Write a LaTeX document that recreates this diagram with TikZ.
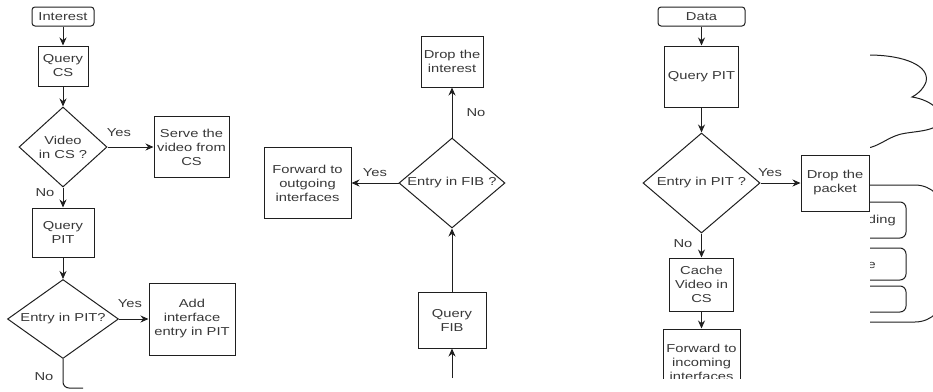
\documentclass[tikz,border=0pt]{standalone}
\usepackage{fontspec}
\setmainfont{Liberation Sans}[FakeStretch=1.28]
\usetikzlibrary{shapes.geometric,arrows.meta}
\definecolor{txt}{gray}{0.22}
\definecolor{ln}{gray}{0.12}
\tikzset{
  base/.style={draw=ln, line width=1pt, text=txt, align=center, inner sep=0pt,
    font=\fontsize{11.5}{14}\selectfont},
  box/.style={base, rectangle},
  term/.style={base, rectangle, rounded corners=3pt},
  dia/.style={draw=ln, line width=1pt, diamond, inner sep=0pt},
  dtext/.style={text=txt, align=center, inner sep=0pt, font=\fontsize{11.5}{14}\selectfont},
  lbl/.style={text=txt, inner sep=0pt, font=\fontsize{11.5}{14}\selectfont},
  arr/.style={draw=ln, line width=1pt, -{Stealth[length=8pt,width=7pt]}},
  plain/.style={draw=ln, line width=1pt},
}
\begin{document}
\begin{tikzpicture}[x=1pt,y=-1pt]
\useasboundingbox (0,0) rectangle (933,391);
% ---------------- left column ----------------
\node[term, minimum width=62pt, minimum height=19pt] (int) at (63,16.5) {Interest};
\node[box, minimum width=50pt, minimum height=40pt] (qcs) at (63,66) {Query\\CS};
\node[dia, minimum width=88pt, minimum height=80pt] (vcs) at (63,147) {};
\node[dtext] (vcst) at (63,147) {Video\\in CS ?};
\node[box, minimum width=75pt, minimum height=61pt] (serve) at (191.5,147) {Serve the\\video from\\CS};
\node[box, minimum width=62pt, minimum height=49pt] (qpit) at (63,232.5) {Query\\PIT};
\node[dia, minimum width=111pt, minimum height=79pt] (epit) at (63,319) {};
\node[dtext] (epitt) at (63,319) {Entry in PIT?};
\node[box, minimum width=86pt, minimum height=72pt] (add) at (192,319) {Add\\interface\\entry in PIT};
\coordinate (lend) at (83,388);
\node[lbl] (y1) at (119,133) {Yes};
\node[lbl] (n1) at (45,193) {No};
\node[lbl] (y2) at (130,304) {Yes};
\node[lbl] (n2) at (44,377) {No};
\draw[arr] (int) -- (qcs);
\draw[arr] (qcs) -- (vcs.north);
\draw[arr] (vcs.east) -- (vcs.east -| serve.west);
\draw[arr] (vcs.south) -- (qpit.north);
\draw[arr] (qpit) -- (epit.north);
\draw[arr] (epit.east) -- (epit.east -| add.west);
\draw[plain, rounded corners=6pt] (epit.south) |- (lend);
% ---------------- middle column ----------------
\node[box, minimum width=62pt, minimum height=51pt] (drop) at (452,61.5) {Drop the\\interest};
\node[dia, minimum width=106pt, minimum height=90pt] (fib) at (452,183) {};
\node[dtext] (fibt) at (452,183) {Entry in FIB ?};
\node[box, minimum width=87pt, minimum height=71pt] (fwdout) at (307.5,183) {Forward to\\outgoing\\interfaces};
\node[box, minimum width=68pt, minimum height=56pt] (qfib) at (452,320) {Query\\FIB};
\coordinate (fibin) at (452,378);
\node[lbl] (n3) at (476,113) {No};
\node[lbl] (y3) at (375,173) {Yes};
\draw[arr] (fibin) -- (qfib.south);
\draw[arr] (qfib.north) -- (fib.south);
\draw[arr] (fib.west) -- (fwdout.east);
\draw[arr] (fib.north) -- (drop.south);
% ---------------- right column ----------------
\node[term, minimum width=87pt, minimum height=19pt] (data) at (701.5,16.5) {Data};
\node[box, minimum width=74pt, minimum height=61pt] (qpit2) at (701.5,76.5) {Query PIT};
\node[dia, minimum width=117pt, minimum height=100pt] (epit2) at (701.5,183) {};
\node[dtext] (epit2t) at (701.5,183) {Entry in PIT ?};
\node[box, minimum width=68pt, minimum height=56pt] (dropp) at (835,183) {Drop the\\packet};
\node[box, minimum width=64pt, minimum height=53pt] (cache) at (701.5,284.5) {Cache\\Video in\\CS};
\begin{scope}
  \clip (600,300) rectangle (800,378);
  \node[box, minimum width=77pt, minimum height=66pt] (fwdin) at (701.5,362) {Forward to\\incoming\\interfaces};
\end{scope}
\node[lbl] (y4) at (770,173) {Yes};
\node[lbl] (n4) at (683,244) {No};
\draw[arr] (data) -- (qpit2);
\draw[arr] (qpit2) -- (epit2.north);
\draw[arr] (epit2.east) -- (dropp.west);
\draw[arr] (epit2.south) -- (cache.north);
\draw[arr] (cache) -- (fwdin.north);
% ---------------- clipped fragments on the right ----------------
\begin{scope}
  \clip (870,0) rectangle (933,391);
  \draw[plain] (868,55) .. controls (905,55) and (930,66) .. (926,82)
     .. controls (923,90) and (916,95) .. (912,97)
     .. controls (932,100) and (948,114) .. (938,125)
     .. controls (928,133) and (906,131) .. (895,136)
     .. controls (885,140) and (878,146) .. (868,148);
  \draw[plain, rounded corners=30pt] (840,185) rectangle (945,322);
  \draw[plain, rounded corners=6pt] (840,202) rectangle (906,238);
  \draw[plain, rounded corners=6pt] (840,248) rectangle (906,280);
  \draw[plain, rounded corners=6pt] (840,286) rectangle (906,312);
  \node[lbl, anchor=east] (fr1) at (896,221) {ding};
  \node[lbl, anchor=east] (fr2) at (876,265) {e};
\end{scope}
\end{tikzpicture}
\end{document}
